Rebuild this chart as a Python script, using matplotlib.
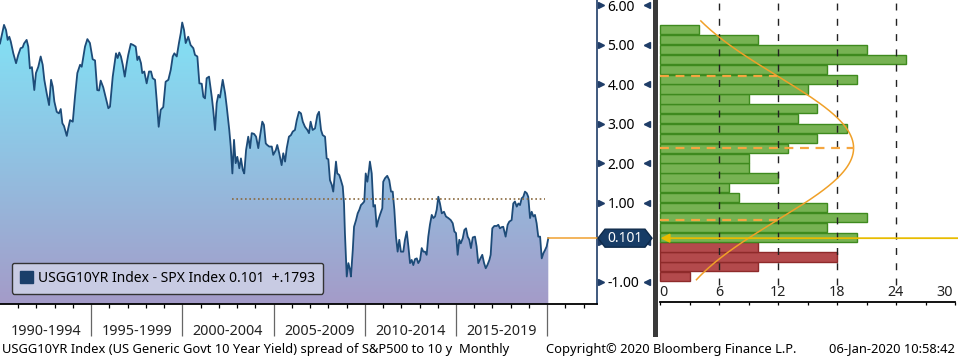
import numpy as np
import matplotlib
matplotlib.use('Agg')
import matplotlib.pyplot as plt
from matplotlib.patches import Polygon, Patch, Rectangle
from matplotlib.colors import LinearSegmentedColormap
from matplotlib.transforms import blended_transform_factory

plt.rcParams['font.family'] = ['Noto Sans', 'DejaVu Sans']

# monthly spread USGG10YR - SPX earnings yield
years = [
    1990.00, 1990.22, 1990.33, 1990.42, 1990.51, 1990.59, 1990.73, 1990.88, 1991.00, 1991.13,
    1991.24, 1991.32, 1991.46, 1991.55, 1991.64, 1991.75, 1991.88, 1991.97, 1992.10, 1992.23,
    1992.34, 1992.43, 1992.56, 1992.69, 1992.80, 1992.89, 1992.98, 1993.11, 1993.23, 1993.33,
    1993.42, 1993.51, 1993.66, 1993.74, 1993.84, 1993.99, 1994.11, 1994.24, 1994.39, 1994.48,
    1994.57, 1994.66, 1994.79, 1994.93, 1995.08, 1995.21, 1995.33, 1995.43, 1995.52, 1995.66,
    1995.81, 1995.94, 1996.03, 1996.18, 1996.36, 1996.45, 1996.54, 1996.63, 1996.73, 1996.84,
    1996.95, 1997.03, 1997.17, 1997.31, 1997.44, 1997.53, 1997.62, 1997.73, 1997.80, 1997.91,
    1998.04, 1998.17, 1998.28, 1998.37, 1998.50, 1998.59, 1998.70, 1998.81, 1998.95, 1999.08,
    1999.23, 1999.36, 1999.47, 1999.56, 1999.69, 1999.81, 1999.91, 1999.99, 2000.09, 2000.18,
    2000.32, 2000.45, 2000.60, 2000.69, 2000.82, 2000.93, 2001.06, 2001.15, 2001.24, 2001.33,
    2001.46, 2001.61, 2001.69, 2001.79, 2001.88, 2001.97, 2002.06, 2002.21, 2002.34, 2002.43,
    2002.57, 2002.65, 2002.74, 2002.83, 2002.92, 2003.01, 2003.12, 2003.21, 2003.31, 2003.39,
    2003.49, 2003.61, 2003.71, 2003.80, 2003.93, 2004.04, 2004.16, 2004.25, 2004.38, 2004.47,
    2004.57, 2004.65, 2004.76, 2004.90, 2004.98, 2005.12, 2005.20, 2005.31, 2005.44, 2005.53,
    2005.63, 2005.72, 2005.84, 2005.95, 2006.05, 2006.17, 2006.27, 2006.39, 2006.50, 2006.60,
    2006.72, 2006.85, 2006.94, 2007.03, 2007.14, 2007.27, 2007.40, 2007.49, 2007.60, 2007.69,
    2007.82, 2007.91, 2008.00, 2008.09, 2008.19, 2008.27, 2008.42, 2008.49, 2008.60, 2008.69,
    2008.79, 2008.86, 2008.91, 2009.01, 2009.10, 2009.19, 2009.24, 2009.34, 2009.41, 2009.52,
    2009.61, 2009.70, 2009.79, 2009.88, 2009.97, 2010.05, 2010.14, 2010.23, 2010.28, 2010.38,
    2010.47, 2010.56, 2010.65, 2010.74, 2010.83, 2010.96, 2011.01, 2011.11, 2011.23, 2011.34,
    2011.44, 2011.53, 2011.62, 2011.71, 2011.80, 2011.89, 2011.98, 2012.11, 2012.20, 2012.30,
    2012.39, 2012.48, 2012.57, 2012.66, 2012.75, 2012.85, 2012.93, 2013.03, 2013.12, 2013.21,
    2013.30, 2013.39, 2013.48, 2013.57, 2013.67, 2013.76, 2013.85, 2013.94, 2014.03, 2014.12,
    2014.22, 2014.34, 2014.45, 2014.58, 2014.71, 2014.82, 2014.91, 2015.00, 2015.09, 2015.18,
    2015.26, 2015.37, 2015.46, 2015.55, 2015.64, 2015.73, 2015.82, 2015.92, 2016.04, 2016.13,
    2016.22, 2016.32, 2016.44, 2016.54, 2016.63, 2016.72, 2016.83, 2016.90, 2016.99, 2017.10,
    2017.23, 2017.32, 2017.41, 2017.50, 2017.59, 2017.72, 2017.83, 2017.92, 2018.05, 2018.14,
    2018.23, 2018.33, 2018.42, 2018.51, 2018.60, 2018.69, 2018.78, 2018.88, 2018.96, 2019.06,
    2019.15, 2019.24, 2019.33, 2019.42, 2019.51, 2019.61, 2019.70, 2019.79, 2019.88, 2019.97,
    2020.06,
]
spread = [
    5.03, 5.50, 5.37, 5.12, 5.20, 5.08, 4.78, 4.53, 4.74, 4.91,
    4.93, 5.03, 5.12, 4.95, 4.40, 4.43, 3.85, 4.28, 4.44, 4.70,
    4.49, 4.11, 3.77, 3.47, 4.11, 3.94, 3.56, 3.30, 3.26, 3.37,
    3.01, 2.94, 2.69, 2.88, 3.09, 3.05, 3.68, 4.28, 4.49, 4.44,
    4.70, 4.95, 5.14, 5.04, 4.63, 4.60, 3.85, 3.84, 4.09, 3.92,
    3.64, 3.39, 3.43, 4.19, 4.78, 4.66, 4.80, 4.70, 4.49, 4.19,
    4.53, 4.74, 5.02, 4.99, 4.95, 4.61, 4.70, 4.53, 4.28, 4.32,
    4.02, 4.32, 4.32, 4.15, 4.11, 3.60, 2.92, 3.35, 3.42, 4.06,
    4.11, 4.36, 4.70, 4.78, 4.70, 5.04, 5.29, 5.56, 5.37, 5.04,
    5.20, 4.99, 4.91, 4.74, 4.70, 4.02, 4.01, 3.68, 3.64, 4.15,
    4.19, 3.68, 3.35, 2.84, 3.52, 3.73, 3.66, 4.11, 3.77, 3.43,
    2.84, 2.42, 1.74, 2.59, 2.00, 2.16, 1.87, 2.12, 1.83, 1.74,
    2.33, 2.67, 2.38, 2.76, 2.74, 2.67, 2.38, 2.67, 3.05, 2.97,
    2.50, 2.46, 2.42, 2.42, 2.21, 2.33, 2.46, 2.25, 1.95, 2.25,
    2.04, 2.38, 2.67, 2.71, 2.80, 2.84, 3.09, 3.30, 3.26, 3.05,
    2.92, 2.84, 2.76, 3.05, 2.84, 2.88, 3.22, 3.30, 2.84, 2.71,
    2.67, 2.12, 2.10, 1.57, 1.45, 1.28, 2.04, 1.74, 1.70, 1.57,
    1.41, 0.98, 0.23, -0.87, -0.53, -0.70, -0.87, -0.20, 0.39, 0.56,
    0.73, 0.82, 0.94, 0.98, 1.03, 1.74, 1.53, 1.83, 2.04, 1.74,
    0.90, 0.94, 0.39, 0.56, 0.69, 0.86, 1.53, 1.62, 1.68, 1.57,
    1.28, 1.28, 0.82, 0.14, -0.24, 0.06, -0.24, -0.24, 0.06, 0.27,
    -0.11, -0.53, -0.45, -0.58, -0.43, -0.41, -0.53, -0.45, -0.15, -0.24,
    -0.24, -0.32, 0.14, 0.44, 0.69, 0.61, 0.65, 0.82, 1.15, 0.98,
    0.73, 0.77, 0.65, 0.61, 0.56, 0.48, 0.27, 0.23, -0.32, 0.06,
    -0.03, 0.10, 0.31, 0.35, 0.14, 0.06, -0.15, 0.12, 0.14, -0.11,
    -0.53, -0.43, -0.32, -0.53, -0.66, -0.58, -0.45, -0.32, 0.35, 0.41,
    0.41, 0.44, 0.35, 0.38, 0.39, 0.14, 0.44, 0.52, 0.56, 0.98,
    1.03, 0.90, 0.98, 0.94, 1.11, 1.15, 1.28, 1.24, 1.15, 0.61,
    0.77, 0.65, 0.69, 0.48, 0.14, 0.14, -0.41, -0.28, -0.20, -0.11,
    0.101,
]
last_value = 0.101
change_txt = '+.1793'

# dotted reference level
ref_level = 1.09
ref_from, ref_to = 2002.72, 2019.88

period_start = [1990, 1995, 2000, 2005, 2010, 2015]
period_labels = ['1990-1994', '1995-1999', '2000-2004', '2005-2009', '2010-2014', '2015-2019']

# histogram of monthly values, bins of 0.25 starting at -1.00
bin_start = -1.0
bin_width = 0.25
bin_counts = [3, 10, 18, 10,
              20, 17, 21, 17, 8, 7, 12, 9, 9, 13, 16, 19, 14, 16, 9, 15, 20, 17, 25, 21, 10, 4]

W, H = 958, 359
fig = plt.figure(figsize=(W / 100, H / 100), dpi=100)


def rect(x0, y0, x1, y1):
    # pixel box (top-left origin) -> figure fraction
    return [x0 / W, 1 - y1 / H, (x1 - x0) / W, (y1 - y0) / H]


navy = '#1F3D68'
ymin, ymax = -1.565, 6.13
xmax = 2022.73

# ---------------- left: spread history ----------------
ax = fig.add_axes(rect(0, 0, 597, 304))
cmap = LinearSegmentedColormap.from_list('sky', ['#A49BC8', '#90C3E3', '#7FE8F9'])
grad = np.linspace(0, 1, 256).reshape(-1, 1)
im = ax.imshow(grad, cmap=cmap, origin='lower', aspect='auto',
               extent=[years[0], years[-1], ymin, ymax], zorder=1)
verts = list(zip(years, spread)) + [(years[-1], ymin), (years[0], ymin)]
clip = Polygon(verts, closed=True, facecolor='none', edgecolor='none', transform=ax.transData)
ax.add_patch(clip)
im.set_clip_path(clip)
ax.plot(years, spread, color='#1D4B78', lw=1.3, zorder=3)
ax.plot([ref_from, ref_to], [ref_level, ref_level], color='#8A6A3E', lw=1.2,
        ls=(0, (1, 1.6)), zorder=4)
ax.plot([years[-1], xmax], [last_value, last_value], color='#F0A030', lw=1.1, zorder=4,
        clip_on=False)
ax.set_xlim(1990, xmax)
ax.set_ylim(ymin, ymax)

for s in ['top', 'left']:
    ax.spines[s].set_visible(False)
ax.spines['right'].set_color(navy)
ax.spines['right'].set_linewidth(1.2)
ax.spines['bottom'].set_color('black')
ax.spines['bottom'].set_linewidth(1.3)

ax.set_xticks(range(1995, 2021, 5))
ax.set_xticklabels([])
ax.set_xticks(range(1991, 2023), minor=True)
ax.tick_params(axis='x', which='major', length=23, width=0.9, color='#666666')
ax.tick_params(axis='x', which='minor', length=3, width=0.9, color='black')
for st, lab in zip(period_start, period_labels):
    ax.text(st + 2.5, -0.09, lab, transform=blended_transform_factory(ax.transData, ax.transAxes),
            ha='center', va='center', fontsize=10.3, color='#222222')

yt = list(range(-1, 7))
ax.yaxis.tick_right()
ax.set_yticks(yt)
ax.set_yticklabels(['' if v == 0 else f'{v:.2f}' for v in yt], fontsize=10)
ax.set_yticks(np.arange(-1.5, 6.1, 0.5)[1::2], minor=True)
ax.tick_params(axis='y', which='major', length=0, pad=7.5)
ax.tick_params(axis='y', which='minor', length=3, width=1, color=navy)
tr = blended_transform_factory(ax.transAxes, ax.transData)
ax.plot([1.006] * len(yt), yt, ls='none', marker='>', ms=5, color=navy, transform=tr, clip_on=False)
ax.plot([1.0845] * len(yt), yt, ls='none', marker='<', ms=5, color=navy, transform=tr, clip_on=False)
minor_y = list(np.arange(-1.5, 6.1, 0.5)[1::2])
ax.plot([1.0835] * len(minor_y), minor_y, ls='none', marker='_', ms=5, mew=1, color=navy,
        transform=tr, clip_on=False)

leg = ax.legend(handles=[Patch(facecolor='#1B3F6A', edgecolor='#1B3F6A')],
                labels=[f'USGG10YR Index - SPX Index {last_value}  {change_txt}'],
                loc='lower left', bbox_to_anchor=(0.0196, 0.032), borderaxespad=0,
                fontsize=10, handlelength=0.9, handleheight=0.9, handletextpad=0.4,
                borderpad=0.6, fancybox=True, framealpha=1)
leg.get_frame().set_facecolor('#C8CBE3')
leg.get_frame().set_edgecolor('#333333')
leg.get_frame().set_linewidth(1.0)
leg.set_zorder(6)

# current value badge
yd = ax.transData.transform((0, last_value))[1]
yc = yd / H
hh = 9 / H
pts = [(598 / W, yc), (605 / W, yc + hh), (645 / W, yc + hh), (652 / W, yc),
       (645 / W, yc - hh), (605 / W, yc - hh)]
fig.add_artist(Polygon(pts, closed=True, facecolor='#173C66', edgecolor='#0E2A4A', lw=1,
                       transform=fig.transFigure, zorder=10))
fig.text(625 / W, yc, f'{last_value}', color='white', ha='center', va='center', fontsize=10,
         zorder=11)

# separator bar
fig.add_artist(Rectangle((653 / W, 1 - 337 / H), 4.5 / W, 337 / H, facecolor='#3A3A3A',
                         edgecolor='none', transform=fig.transFigure, zorder=9))

# ---------------- right: distribution ----------------
hax = fig.add_axes(rect(660, 0, 955, 302))
hax.set_xlim(0, 30)
hax.set_ylim(ymin + (304 - 302) / 39.5, ymax)
lows = bin_start + bin_width * np.arange(len(bin_counts))
cols = ['#77B253' if lo >= 0 else '#B34A4C' for lo in lows]
edges = ['#3E8A1E' if lo >= 0 else '#8E2A2A' for lo in lows]
hax.barh(lows + 0.008, bin_counts, height=bin_width - 0.016, align='edge', color=cols,
         edgecolor=edges, lw=1.0, zorder=2, clip_on=False)

centers = lows + bin_width / 2
n = sum(bin_counts)
mu = np.average(centers, weights=bin_counts)
sd = np.sqrt(np.average((centers - mu) ** 2, weights=bin_counts))


def fit(v):
    return n * bin_width / (sd * np.sqrt(2 * np.pi)) * np.exp(-0.5 * ((v - mu) / sd) ** 2)


yy = np.linspace(-0.95, 5.6, 200)
hax.plot(fit(yy), yy, color='#F0A028', lw=1.1, zorder=4)
for m in [mu - sd, mu, mu + sd]:
    hax.plot([0, fit(m)], [m, m], color='#F5A640', lw=1.6, ls=(0, (4, 3)), zorder=4)

grid_bottom = (242.2 - 285) / 39.5
hax.vlines([6, 12, 18, 24], grid_bottom, ymax, colors='#222222', lw=1.0,
           linestyles=(0, (5, 6)), zorder=3)

hax.annotate('', xy=(0.05, last_value), xytext=(30.35, last_value),
             arrowprops=dict(arrowstyle='-|>', color='#E8BC00', lw=1.3, mutation_scale=13,
                             shrinkA=0, shrinkB=0),
             annotation_clip=False, zorder=5)

for s in ['top', 'left', 'right']:
    hax.spines[s].set_visible(False)
hax.spines['bottom'].set_color('black')
hax.spines['bottom'].set_linewidth(1.3)
hax.set_yticks([])
hax.set_xticks(range(0, 31, 3))
hax.set_xticklabels([])
hax.tick_params(axis='x', length=2.5, width=0.9)
ylab = (242.2 - 292.5) / 39.5
for v in range(0, 31, 6):
    ha = 'left' if v == 0 else ('right' if v == 30 else 'center')
    xv = -0.1 if v == 0 else (29.8 if v == 30 else v)
    hax.text(xv, ylab, str(v), ha=ha, va='center', fontsize=10.3, color='#222222')

# ---------------- footer ----------------
fy = 1 - 349 / H
fig.text(2 / W, fy, 'USGG10YR Index (US Generic Govt 10 Year Yield) spread of S&P500 to 10 y  Monthly',
         ha='left', va='center', fontsize=9.3)
fig.text(546 / W, fy, 'Copyright\u00a9 2020 Bloomberg Finance L.P.', ha='left', va='center',
         fontsize=9.3)
fig.text(955 / W, fy, '06-Jan-2020 10:58:42', ha='right', va='center', fontsize=9.3)

fig.savefig('out.png', dpi=100)
